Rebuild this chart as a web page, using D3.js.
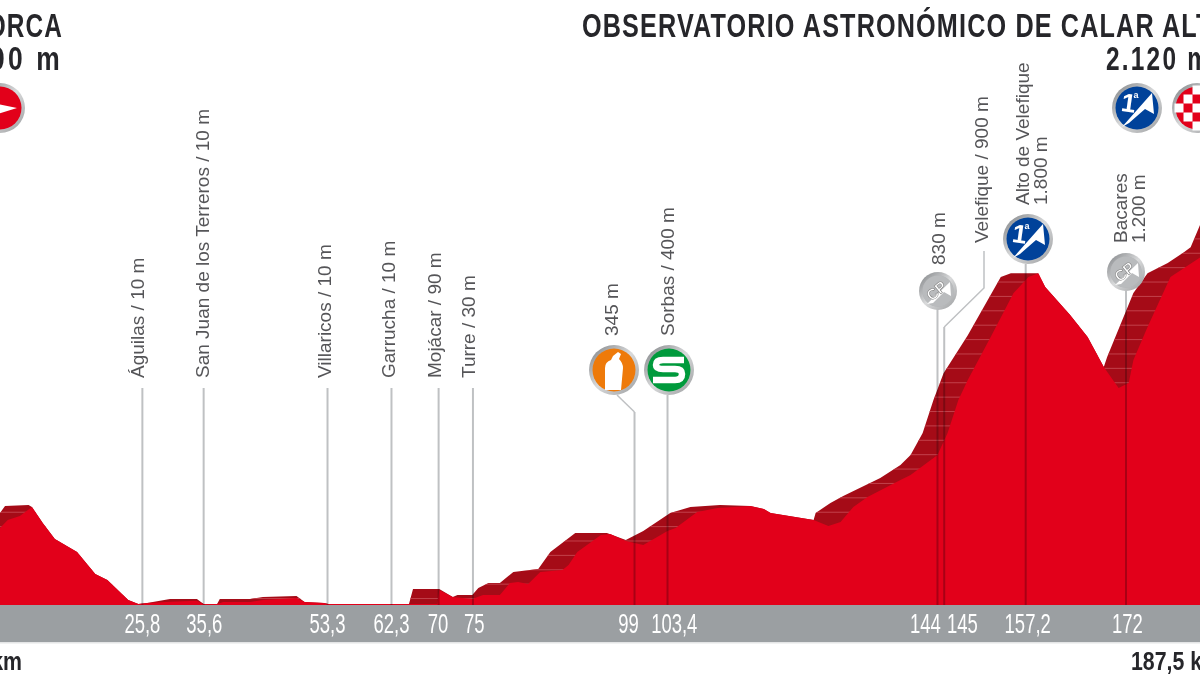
<!DOCTYPE html>
<html><head><meta charset="utf-8">
<script src="https://cdn.jsdelivr.net/npm/d3@7/dist/d3.min.js"></script>
<style>
html,body{margin:0;padding:0;background:#fff;overflow:hidden}
svg{display:block;filter:blur(0.55px)}
text{font-family:"Liberation Sans",Roboto,sans-serif}
</style></head><body><svg id="c" width="1200" height="675"></svg>
<script>
// distance (km) and altitude (m) of the bright front face of the profile
const frontKm=[0,4.75,5.9,7.7,9.5,11.1,12.9,16.2,18.9,20.7,23.8,25.3,26.6,30,34,35,37,37.9,41.9,43.8,48.8,50,52.9,53.5,65.4,69.7,70,72,74.9,76.5,79,80.5,81.7,83.2,85,88.3,89.2,90.5,94,95.4,97.7,100.3,103.9,105.1,108.3,111.3,116.2,118.2,119.2,125.6,127.8,129.6,131.5,133.6,138.5,140,144,145.5,147.1,148.5,151.9,155.3,157.5,159,160,163.7,166.3,168.7,170.9,172.4,173.1,175.2,178.6,183.1,187.5];
const frontM=[300,417,461,482,531,444,358,287,168,135,27,5,11,18,23,5,5,16,16,27,38,16,11,5,5,5,81,43,32,54,54,119,125,114,179,190,217,287,379,385,347,325,401,417,504,526,537,520,499,461,428,450,531,585,678,705,813,932,1111,1220,1453,1691,1778,1799,1724,1572,1453,1290,1176,1203,1328,1507,1778,1886,2120];
// the dark back edge of the climbs
const backKm=[0,4.75,5.5,9,9.5,11.1,12.9,16.2,18.9,20.7,23.8,25.3,26.6,30,34,35,37,37.4,41.9,43.8,48.8,50,52.9,53.5,65.5,66.1,70,72,72.7,74.9,75.8,77.3,79,81,84.7,86.5,90.2,94.9,97.7,100.3,104.3,107.3,111.7,116.2,118.2,119.2,125.6,125.9,128.1,130,135.5,138.5,140,141.8,143.4,144.9,148.5,153.4,154.9,158.9,160,163.7,166.3,168.7,169.2,173.1,175.2,178.2,180.6,181.6,183.1,187.5];
const backM=[300,499,537,542,531,444,358,287,168,135,27,5,11,32,32,5,5,32,32,43,49,16,11,5,5,87,87,43,54,54,92,119,119,179,195,287,390,390,352,401,499,531,542,537,520,499,461,499,553,591,688,759,813,932,1111,1257,1463,1778,1799,1799,1724,1572,1453,1290,1344,1691,1799,1854,1913,1940,2070,2195];
// waypoints
const guideKm=[25.9,35,53.4,62.9,69.9,75,99,103.9,144,145,157.1,172];
const bandLabels=["25,8","35,6","53,3","62,3","70","75","99","103,4","144","145","157,2","172"];
const bandLabelKm=[25.9,35.1,53.4,62.9,69.8,75.2,98.1,104.9,142.2,147.7,157.4,172.2];
const placeNames=["Águilas / 10 m","San Juan de los Terreros / 10 m","Villaricos / 10 m","Garrucha / 10 m","Mojácar / 90 m","Turre / 30 m"];
const placeKm=[25.3,34.9,53,62.6,69.4,74.4];
const startTitle=["LORCA","300 m"];
const finishTitle=["OBSERVATORIO ASTRONÓMICO DE CALAR ALTO","2.120 m"];
const distances=["0 km","187,5 km"];

const svg=d3.select("#c");
const x=d3.scaleLinear().domain([0,172]).range([-32,1126]);
const y=d3.scaleLinear().domain([0,1800]).range([605,273]);
const front=frontKm.map((k,i)=>[k,frontM[i]]);
const back=backKm.map((k,i)=>[k,backM[i]]);
const area=d3.area().x(d=>x(d[0])).y0(y(0)).y1(d=>y(d[1]));
const defs=svg.append("defs");
defs.append("clipPath").attr("id","backClip").append("path").attr("d",area(back));
const ring=defs.append("linearGradient").attr("id","ring").attr("x1",0).attr("y1",0).attr("x2",1).attr("y2",1);
ring.append("stop").attr("offset",0).attr("stop-color","#7d8083");
ring.append("stop").attr("offset",.5).attr("stop-color","#d9dadb");
ring.append("stop").attr("offset",1).attr("stop-color","#9a9c9e");

// profile
svg.append("path").attr("d",area(back)).attr("fill","#a50b17");
svg.append("g").attr("clip-path","url(#backClip)").selectAll("line").data(d3.range(35,2300,78)).join("line")
  .attr("x1",0).attr("x2",1200).attr("y1",d=>y(d)).attr("y2",d=>y(d))
  .attr("stroke","#c2414b").attr("stroke-width",1);
svg.append("path").attr("d",area(front)).attr("fill","#e2001a");

// grey distance band
svg.append("rect").attr("x",0).attr("y",605).attr("width",1200).attr("height",37).attr("fill","#9b9fa2");
svg.append("rect").attr("x",0).attr("y",642).attr("width",1200).attr("height",1.5).attr("fill","#e4e5e6");
svg.selectAll(".b").data(bandLabels).join("text").attr("class","b")
  .attr("transform",(d,i)=>`translate(${x(bandLabelKm[i])},633) scale(.66,1)`).attr("text-anchor","middle")
  .attr("font-size",28).attr("fill","#fff").attr("font-weight",400).text(d=>d);

// guide lines
const guideTop=[388,388,388,388,388,388,412,395,308,327,264,291];
const guides=svg.append("g").style("mix-blend-mode","multiply");
guides.selectAll("line").data(guideKm).join("line")
  .attr("x1",d=>x(d)).attr("x2",d=>x(d)).attr("y1",(d,i)=>guideTop[i]).attr("y2",605)
  .attr("stroke","#bfc1c3").attr("stroke-width",2);
guides.append("path").attr("d",`M617,395L${x(99)},412`).attr("fill","none").attr("stroke","#bfc1c3").attr("stroke-width",1.5);
guides.append("path").attr("d",`M984,251V288L${x(145)},327`).attr("fill","none").attr("stroke","#bfc1c3").attr("stroke-width",1.5);

// vertical labels
function vtext(s,px,py){
  svg.append("text").attr("transform",`translate(${px},${py}) rotate(-90)`)
    .attr("font-size",19).attr("fill","#555558").text(s);
}
placeNames.forEach((s,i)=>vtext(s,x(placeKm[i])+6,378));
vtext("345 m",618,336);vtext("Sorbas / 400 m",674,336);
vtext("830 m",945,265);vtext("Velefique / 900 m",988,243);
vtext("Alto de Velefique",1029,205);vtext("1.800 m",1047,205);
vtext("Bacares",1127,243);vtext("1.200 m",1145,243);

// titles
const title=(s,px,py,anchor,size,sx,ls)=>svg.append("text").attr("transform",`translate(${px},${py}) scale(${sx},1)`).attr("text-anchor",anchor)
  .attr("font-size",size).attr("font-weight",700).attr("letter-spacing",ls||0).attr("fill","#26262a").text(s);
title(startTitle[0],63,37,"end",33,.74,1.5);
title(startTitle[1],63,70,"end",33,.8,4);
title(finishTitle[0],582,37,"start",33,.764,1.5);
title(finishTitle[1],1106,70,"start",33,.74,3);
title(distances[0],22,670,"end",26,.82);
title(distances[1],1131,670,"start",26,.82);

// badges
function badge(cx,cy,r,fill){
  const g=svg.append("g").attr("transform",`translate(${cx},${cy})`);
  g.append("circle").attr("r",r).attr("fill","url(#ring)");
  g.append("circle").attr("r",r-3.5).attr("fill",fill);
  return g;
}
function climb(cx,cy,r){
  const g=badge(cx,cy,r,"#00429a"),k=r/25;
  g.append("path").attr("transform",`scale(${k})`).attr("fill","#fff")
    .attr("d","M-15,19L15,-15L17,6L8,1L-8,15Z");
  g.append("text").attr("transform",`scale(${k}) rotate(8)`).attr("x",-9).attr("y",5).attr("text-anchor","middle")
    .attr("font-size",26).attr("font-weight",700).attr("fill","#fff").text("1");
  g.append("text").attr("transform",`scale(${k})`).attr("x",-1).attr("y",-10).attr("text-anchor","middle")
    .attr("font-size",9).attr("font-weight",700).attr("fill","#fff").text("a");
}
function cp(cx,cy){
  const g=badge(cx,cy,19,"#aeb0b2");
  g.append("circle").attr("r",15.5).attr("fill","#b9bbbd");
  g.append("path").attr("fill","#fff").attr("d","M-11,13L12,-9L13,5L6,1L-5,12Z");
  g.append("text").attr("transform","rotate(-40)").attr("x",-1).attr("y",4).attr("text-anchor","middle")
    .attr("font-size",15).attr("font-weight",700).attr("fill","#fff").attr("stroke","#777").attr("stroke-width",.5).text("CP");
}
// start arrow
const st=badge(0,108,25,"#e2001a");
st.append("path").attr("fill","#fff").attr("d","M-22,-8L17,0L-22,12L-12,2Z");
// feed zone
const feed=badge(614,370,25,"#ee7a0a");
feed.append("path").attr("fill","#fff").attr("d","M-9,20V-2Q-9,-8 -3,-10L-1,-14L4,-18L7,-16L5,-11Q9,-7 9,-2L7,20Z");
// sprint
const spr=badge(669,370,25,"#009a3c");
spr.append("path").attr("fill","none").attr("stroke","#fff").attr("stroke-width",6.5)
  .attr("d","M15,-10H-6Q-13,-10 -13,-5Q-13,-1 -6,-1H6Q13,-1 13,4Q13,10 6,10H-16");
climb(1028,239,25);
climb(1137,108,25);
cp(938,291);cp(1126,272);
// finish flag
const fin=badge(1197,108,25,"#e2001a");
const sz=9;
d3.range(-2,3).forEach(i=>d3.range(-2,3).forEach(j=>{
  if((i+j+8)%2===0&&i*i+j*j<=5)fin.append("rect").attr("x",i*sz-sz/2).attr("y",j*sz-sz/2).attr("width",sz).attr("height",sz).attr("fill","#fff");
}));
</script></body></html>
